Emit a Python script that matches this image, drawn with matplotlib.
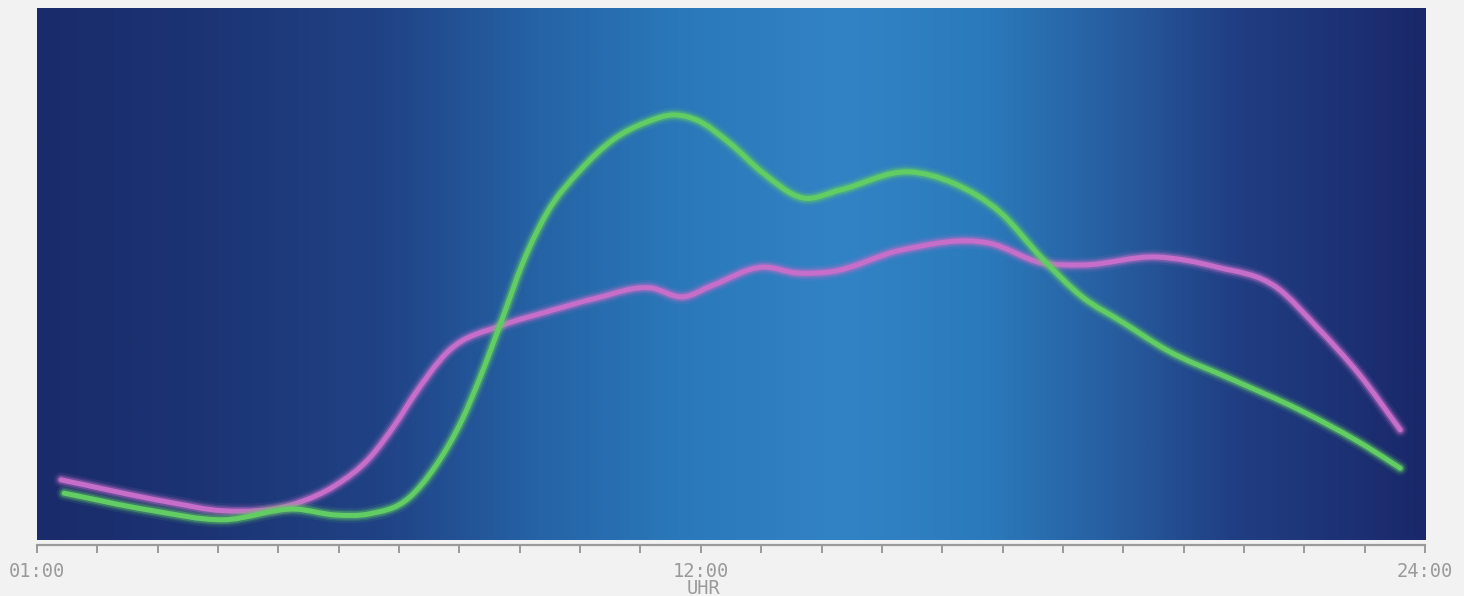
import numpy as np
import matplotlib
matplotlib.use("Agg")
import matplotlib.pyplot as plt
from matplotlib.path import Path
from matplotlib.patches import PathPatch
from matplotlib.colors import LinearSegmentedColormap

# ---- data (hour of day, relative value 0-100) ----
green_hours = [1.45, 2.87, 4.08, 5.29, 5.95, 6.50, 7.16, 7.61, 8.06, 8.34, 8.72, 9.05,
               9.45, 10.00, 10.54, 11.11, 11.54, 11.94, 12.48, 13.03, 13.69, 14.31,
               15.45, 16.18, 16.97, 17.65, 18.32, 18.98, 19.72, 20.82, 21.93, 23.04, 23.59]
green_values = [8.8, 5.6, 3.8, 5.8, 4.7, 4.9, 7.9, 14.0, 23.0, 30.5, 41.9, 52.1,
                61.5, 69.5, 75.2, 78.6, 79.9, 78.9, 74.6, 69.0, 64.3, 65.8,
                69.2, 67.1, 61.5, 53.0, 45.7, 41.0, 35.7, 30.1, 24.4, 17.5, 13.5]

pink_hours = [1.40, 3.19, 4.08, 5.30, 5.95, 6.50, 6.95, 7.23, 7.79, 8.72, 9.45, 10.28,
              11.16, 11.70, 12.20, 13.03, 13.59, 14.14, 15.32, 16.78, 17.65, 18.32,
              19.56, 20.55, 21.55, 22.21, 22.92, 23.59]
pink_values = [11.3, 7.1, 5.5, 6.9, 10.3, 15.3, 22.0, 26.9, 35.2, 40.4, 42.9, 45.5,
               47.4, 45.7, 47.9, 51.3, 50.2, 50.4, 54.5, 55.8, 52.1, 51.7,
               53.2, 51.3, 47.4, 40.0, 31.0, 20.7]

tick_hours = list(range(1, 25))
label_hours = [1, 12, 24]
label_texts = ["01:00", "12:00", "24:00"]
axis_title = "UHR"

# background gradient colour stops (fraction across plot, colour)
bg_stops = [(0.0, "#1a2b6b"), (0.12, "#1c3474"), (0.25, "#204386"), (0.36, "#2563a6"),
            (0.46, "#2a78b9"), (0.58, "#3283c5"), (0.68, "#2b7bbc"), (0.77, "#2760a2"),
            (0.86, "#213f84"), (1.0, "#1a286a")]

W, H = 1464, 596
fig = plt.figure(figsize=(W / 100, H / 100), dpi=100)
fig.patch.set_facecolor("#f2f2f2")

left, right, top, bottom = 37, 1425, 8, 540
ax = fig.add_axes([left / W, 1 - bottom / H, (right - left) / W, (bottom - top) / H])
ax.set_xlim(1, 24)
ax.set_ylim(0, 100)

cmap = LinearSegmentedColormap.from_list("bg", bg_stops)
grad = np.linspace(0, 1, 600).reshape(1, -1)
ax.imshow(grad, cmap=cmap, aspect="auto", extent=(1, 24, 0, 100), zorder=0,
          interpolation="bilinear")


def smooth_path(xs, ys):
    """Cubic Hermite curve y(x) through the read points, as Bezier segments."""
    x = np.asarray(xs, float)
    y = np.asarray(ys, float)
    h = np.diff(x)
    d = np.diff(y) / h
    m = np.empty_like(y)
    m[0], m[-1] = d[0], d[-1]
    m[1:-1] = (d[:-1] * h[1:] + d[1:] * h[:-1]) / (h[:-1] + h[1:])
    verts = [(x[0], y[0])]
    codes = [Path.MOVETO]
    for i in range(len(x) - 1):
        verts += [(x[i] + h[i] / 3, y[i] + m[i] * h[i] / 3),
                  (x[i + 1] - h[i] / 3, y[i + 1] - m[i + 1] * h[i] / 3),
                  (x[i + 1], y[i + 1])]
        codes += [Path.CURVE4] * 3
    return Path(verts, codes)


def draw_line(xs, ys, color, z):
    path = smooth_path(xs, ys)
    for lw, a in [(11, 0.10), (8, 0.18), (6, 0.35)]:
        ax.add_patch(PathPatch(path, fill=False, edgecolor=color, lw=lw, alpha=a,
                               capstyle="round", joinstyle="round", zorder=z))
    ax.add_patch(PathPatch(path, fill=False, edgecolor=color, lw=3.6,
                           capstyle="round", joinstyle="round", zorder=z + 0.5))


draw_line(pink_hours, pink_values, "#c66ec9", 3)
draw_line(green_hours, green_values, "#62cd63", 4)

for s in ["top", "right", "left"]:
    ax.spines[s].set_visible(False)
ax.spines["bottom"].set_position(("outward", 3.5))
ax.spines["bottom"].set_color("#9a9a9a")
ax.spines["bottom"].set_linewidth(1.6)
ax.set_yticks([])

ax.set_xticks(label_hours, label_texts)
ax.set_xticks(tick_hours, minor=True)
ax.tick_params(axis="x", which="both", direction="out", length=6, width=1.4,
               color="#9a9a9a")
ax.tick_params(axis="x", which="major", pad=6, labelsize=13.5, labelcolor="#9a9a9a")
for lbl in ax.get_xticklabels():
    lbl.set_family("DejaVu Sans Mono")

fig.text(703 / W, 1 - 588 / H, axis_title, ha="center", va="center",
         family="DejaVu Sans Mono", fontsize=13.5, color="#9a9a9a")

fig.savefig("out.png", dpi=100, facecolor=fig.get_facecolor())
